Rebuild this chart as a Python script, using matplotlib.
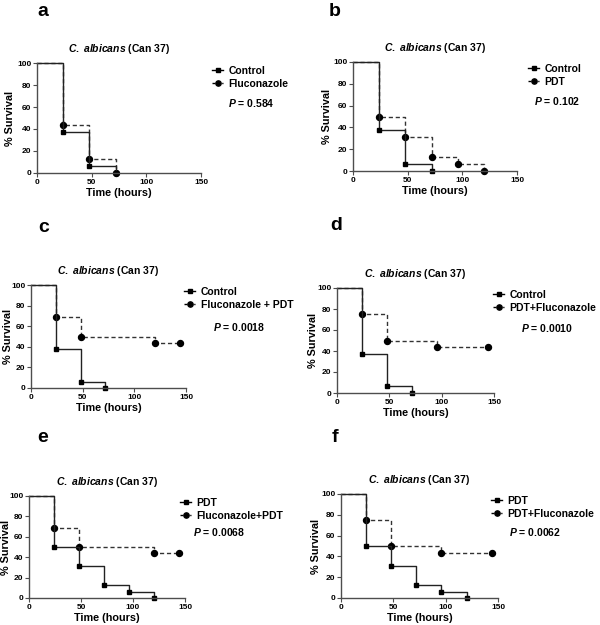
import matplotlib
matplotlib.use("Agg")
import matplotlib.pyplot as plt
from matplotlib.lines import Line2D

plt.rcParams['font.family'] = 'Liberation Sans'
plt.rcParams['mathtext.fontset'] = 'custom'
plt.rcParams['mathtext.it'] = 'Liberation Sans:italic:bold'
plt.rcParams['mathtext.rm'] = 'Liberation Sans:bold'

# survival data (time in hours, % survival)
control_t = [0, 24, 48, 72]
control_s = [100, 37.5, 6.25, 0]
fluco_t = [0, 24, 48, 72]
fluco_s = [100, 43.75, 12.5, 0]
pdt_t = [0, 24, 48, 72, 96, 120]
pdt_s = [100, 50, 31.25, 12.5, 6.25, 0]
flupdt_t = [0, 24, 48, 120, 144]
flupdt_s = [100, 68.75, 50, 43.75, 43.75]
pdtflu_t = [0, 24, 48, 96, 144]
pdtflu_s = [100, 75, 50, 43.75, 43.75]

panel_letters = ['a', 'b', 'c', 'd', 'e', 'f']
solid_names = ['Control', 'Control', 'Control', 'Control', 'PDT', 'PDT']
dashed_names = ['Fluconazole', 'PDT', 'Fluconazole + PDT', 'PDT+Fluconazole',
                'Fluconazole+PDT', 'PDT+Fluconazole']
p_values = ['0.584', '0.102', '0.0018', '0.0010', '0.0068', '0.0062']
solid_data = [(control_t, control_s)] * 4 + [(pdt_t, pdt_s)] * 2
dashed_data = [(fluco_t, fluco_s), (pdt_t, pdt_s), (flupdt_t, flupdt_s),
               (pdtflu_t, pdtflu_s), (flupdt_t, flupdt_s), (pdtflu_t, pdtflu_s)]

# layout in pixels
W, H = 600, 625
boxes = [(37, 201, 63, 173), (353, 517, 62, 171),
         (31, 186, 285, 388), (337, 494, 288, 393),
         (29, 185, 496, 598), (341, 498, 494, 598)]
letter_pos = [(37, 11), (329, 11), (38, 228), (330, 226), (37, 438), (332, 437)]
legend_pos = [(212, 66), (528, 64), (184, 287), (493, 290), (180, 498), (491, 496)]
p_pos = [(251, 103), (557, 101), (239, 327), (547, 328), (219, 532), (535, 532)]
ylabel_x = [10, 327, 8, 313, 6, 316]   # centre of the y label

fig = plt.figure(figsize=(W / 100, H / 100), dpi=100)
gray = '#4d4d4d'

for i in range(6):
    l, r, t, b = boxes[i]
    ax = fig.add_axes([l / W, 1 - b / H, (r - l) / W, (b - t) / H])
    st, ss = solid_data[i]
    dt, ds = dashed_data[i]
    ax.step(dt, ds, where='post', color='#333333', lw=1.0, ls=(0, (3, 2)), clip_on=False)
    ax.plot(dt[1:], ds[1:], 'o', color='black', ms=4.3, clip_on=False)
    ax.step(st, ss, where='post', color='#222222', lw=1.0, clip_on=False)
    ax.plot(st[1:], ss[1:], 's', color='black', ms=3.5, clip_on=False)
    ax.set_xlim(0, 150)
    ax.set_ylim(0, 100)
    ax.set_xticks([0, 50, 100, 150])
    ax.set_yticks([0, 20, 40, 60, 80, 100])
    for s in ['top', 'right']:
        ax.spines[s].set_visible(False)
    for s in ['left', 'bottom']:
        ax.spines[s].set_color(gray)
        ax.spines[s].set_linewidth(1.0)
    ax.tick_params(colors=gray, labelcolor='black', labelsize=6, length=3, width=0.8, pad=1)
    for lab in ax.get_xticklabels() + ax.get_yticklabels():
        lab.set_fontweight('bold')
    ax.set_xlabel('Time (hours)', fontsize=7.8, fontweight='bold', labelpad=2)
    ax.set_ylabel('% Survival', fontsize=7.8, fontweight='bold')
    ax.yaxis.set_label_coords((ylabel_x[i] + 5 - l) / (r - l), 0.5)
    ax.set_title(r'$\mathit{C.\ albicans}$ (Can 37)', fontsize=7.5, fontweight='bold', pad=8)

    handles = [Line2D([], [], color='black', lw=1.0, marker='s', ms=3.2),
               Line2D([], [], color='black', lw=1.0, ls=(0, (2, 1.5)), marker='o', ms=3.8)]
    lx, ly = legend_pos[i]
    ax.legend(handles, [solid_names[i], dashed_names[i]], loc='upper left',
              bbox_to_anchor=(lx / W, 1 - ly / H), bbox_transform=fig.transFigure,
              frameon=False, handlelength=1.1, handletextpad=0.5, labelspacing=0.25,
              borderpad=0, borderaxespad=0, prop={'size': 7.5, 'weight': 'bold'})
    px, py = p_pos[i]
    fig.text(px / W, 1 - py / H, r'$\mathit{P}$ = ' + p_values[i],
             fontsize=7.5, fontweight='bold', ha='center', va='center')
    ax_x, ax_y = letter_pos[i]
    fig.text(ax_x / W, 1 - ax_y / H, panel_letters[i], fontsize=14, fontweight='bold',
             ha='left', va='center')

fig.savefig('out.png', dpi=100)
